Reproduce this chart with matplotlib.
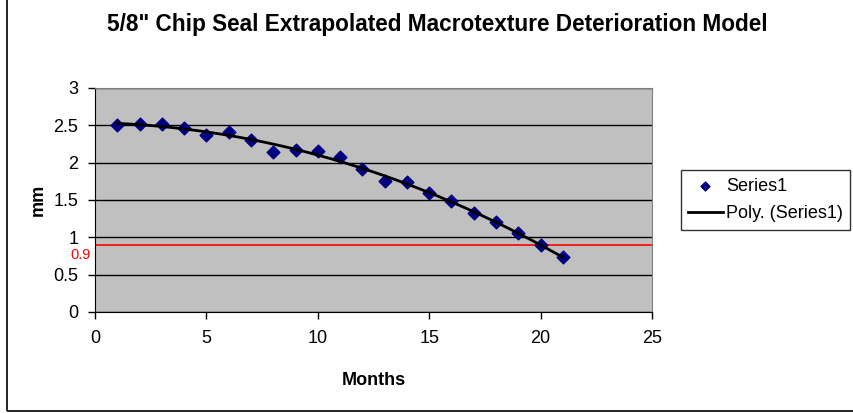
import matplotlib
matplotlib.use("Agg")
import matplotlib.pyplot as plt
import numpy as np
from matplotlib.patches import Rectangle

plt.rcParams['font.family'] = ['Liberation Sans', 'DejaVu Sans']

# texture depth readings, one per month
months = [1, 2, 3, 4, 5, 6, 7, 8, 9, 10, 11, 12, 13, 14, 15, 16, 17, 18, 19, 20, 21]
depth_mm = [2.50, 2.52, 2.52, 2.47, 2.37, 2.41, 2.31, 2.14, 2.17, 2.16, 2.08,
            1.92, 1.76, 1.74, 1.60, 1.48, 1.33, 1.20, 1.06, 0.90, 0.73]
threshold = 0.9
poly_order = 3

W, H = 854, 413
fig = plt.figure(figsize=(W / 100, H / 100), dpi=100)
fig.patch.set_facecolor('white')

# chart border (top and right edges run off the canvas)
fig.patches.append(Rectangle((7 / W, 2 / H), 860 / W, 420 / H, transform=fig.transFigure,
                             fill=False, edgecolor='black', linewidth=1.2))

left, right, top, bottom = 95, 652, 88, 312
ax = fig.add_axes([left / W, 1 - bottom / H, (right - left) / W, (bottom - top) / H])
ax.set_facecolor('#C0C0C0')

ax.set_xlim(0, 25)
ax.set_ylim(0, 3)
ax.set_xticks([0, 5, 10, 15, 20, 25])
ax.set_yticks([0, 0.5, 1, 1.5, 2, 2.5, 3])
ax.set_yticklabels(['0', '0.5', '1', '1.5', '2', '2.5', '3'])
ax.tick_params(labelsize=13, length=5, width=1, color='black', direction='out')
ax.tick_params(axis='x', pad=8)
ax.tick_params(axis='y', pad=7)
ax.grid(axis='y', color='black', linewidth=1)
ax.set_axisbelow(True)
for side in ['top', 'right']:
    ax.spines[side].set_color('#808080')
for side in ['left', 'bottom']:
    ax.spines[side].set_color('black')

ax.scatter(months, depth_mm, marker='D', s=42, color='#000080', zorder=3, label='Series1')

coef = np.polyfit(months, depth_mm, poly_order)
xs = np.linspace(months[0], months[-1], 200)
ax.plot(xs, np.polyval(coef, xs), color='black', linewidth=2, zorder=4, label='Poly. (Series1)')

ax.axhline(threshold, color='red', linewidth=1.2, zorder=2)
ax.annotate('0.9', xy=(0, threshold), xycoords=('axes fraction', 'data'),
            xytext=(-4, -10), textcoords='offset pixels', color='red', fontsize=10.5,
            ha='right', va='center')

ax.set_xlabel('Months', fontsize=13, fontweight='bold', labelpad=18)
ax.set_ylabel('mm', fontsize=13, fontweight='bold', labelpad=5)
fig.text(437 / W, 1 - 25 / H, '5/8" Chip Seal Extrapolated Macrotexture Deterioration Model',
         fontsize=16.3, fontweight='bold', ha='center', va='center')

leg = ax.legend(loc='center left', bbox_to_anchor=(681 / W, 1 - 200 / H),
                bbox_transform=fig.transFigure, fontsize=13, frameon=True, fancybox=False,
                borderpad=0.4, borderaxespad=0, handlelength=1.9, handletextpad=0.2,
                labelspacing=0.6, markerscale=0.7)
leg.get_frame().set_edgecolor('black')
leg.get_frame().set_linewidth(1)

fig.savefig('out.png', dpi=100)
